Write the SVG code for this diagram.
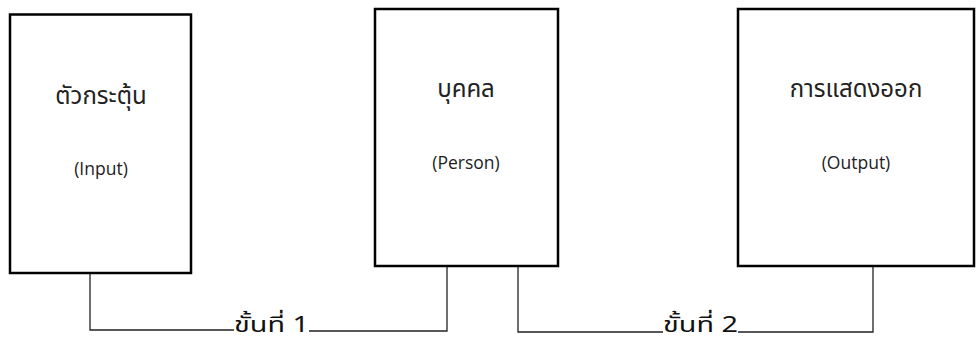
<svg xmlns="http://www.w3.org/2000/svg" width="976" height="341" viewBox="0 0 976 341">
<style>
.box{fill:#fff;stroke:#000;stroke-width:2.5}
.th{font-family:"Noto Sans Thai","Noto Sans","DejaVu Sans",sans-serif;font-size:24px;fill:#222;text-anchor:middle}
.en{font-family:"Open Sans","Noto Sans",sans-serif;font-size:17.5px;fill:#222;text-anchor:middle}
.step{font-family:"Noto Sans Thai","Liberation Sans","DejaVu Sans",sans-serif;font-size:22px;fill:#111}
.conn{fill:none;stroke:#222;stroke-width:1.3}
</style>
<rect width="976" height="341" fill="#fff"/>
<g id="connectors">
<polyline class="conn" points="90,273 90,330 234,330"/>
<polyline class="conn" points="309,331 447,331 447,266"/>
<polyline class="conn" points="518,266 518,332 663,332"/>
<polyline class="conn" points="738,332 873,332 873,266"/>
</g>
<g id="node-input">
<rect class="box" x="10" y="14.5" width="181" height="258.5"/>
<text class="th" x="101" y="104">ตัวกระตุ้น</text>
<text class="en" x="101" y="175">(Input)</text>
</g>
<g id="node-person">
<rect class="box" x="375" y="9" width="183" height="257"/>
<text class="th" x="466" y="97">บุคคล</text>
<text class="en" x="466" y="169">(Person)</text>
</g>
<g id="node-output">
<rect class="box" x="738" y="9" width="236" height="257"/>
<text class="th" x="856" y="97">การแสดงออก</text>
<text class="en" x="856" y="169">(Output)</text>
</g>
<g id="labels">
<text class="step" x="234" y="332" textLength="75" lengthAdjust="spacingAndGlyphs">ขั้นที่ 1</text>
<text class="step" x="663" y="332" textLength="75" lengthAdjust="spacingAndGlyphs">ขั้นที่ 2</text>
</g>
</svg>
